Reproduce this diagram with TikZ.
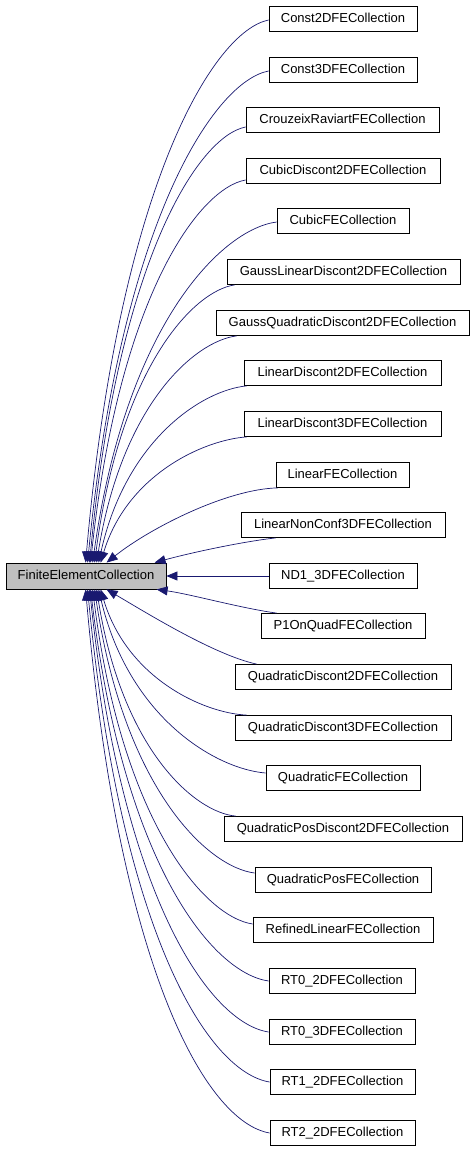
\documentclass[tikz,border=0pt]{standalone}
\usepackage{fontspec}
\setmainfont{Liberation Sans}
\usetikzlibrary{arrows.meta}
\definecolor{edgecol}{HTML}{191970}
\definecolor{parentfill}{HTML}{BFBFBF}
\tikzset{
  cls/.style={draw=black, line width=0.8pt, minimum height=25pt, inner sep=0pt,
    font=\fontsize{13}{15}\selectfont, text height=9.5pt, text depth=2.5pt},
  parentbox/.style={cls, fill=parentfill, minimum height=26pt},
  edge/.style={draw=edgecol, line width=0.7pt, -{Triangle[length=11pt,width=9pt]}}
}
\begin{document}
\begin{tikzpicture}[x=1pt,y=-1pt]
\useasboundingbox (0,0) rectangle (475,1152);
\node[parentbox, minimum width=160pt] (p) at (86,576) {FiniteElementCollection};
\node[cls, minimum width=148pt] (c0) at (343,19) {Const2DFECollection};
\node[cls, minimum width=148pt] (c1) at (343,70) {Const3DFECollection};
\node[cls, minimum width=193pt] (c2) at (342.5,120) {CrouzeixRaviartFECollection};
\node[cls, minimum width=194pt] (c3) at (343,171) {CubicDiscont2DFECollection};
\node[cls, minimum width=132pt] (c4) at (343,221) {CubicFECollection};
\node[cls, minimum width=233pt] (c5) at (343.5,272) {GaussLinearDiscont2DFECollection};
\node[cls, minimum width=253pt] (c6) at (342.5,323) {GaussQuadraticDiscont2DFECollection};
\node[cls, minimum width=197pt] (c7) at (342.5,373) {LinearDiscont2DFECollection};
\node[cls, minimum width=197pt] (c8) at (342.5,424) {LinearDiscont3DFECollection};
\node[cls, minimum width=133pt] (c9) at (342.5,475) {LinearFECollection};
\node[cls, minimum width=204pt] (c10) at (343,525) {LinearNonConf3DFECollection};
\node[cls, minimum width=148pt] (c11) at (343,576) {ND1\_3DFECollection};
\node[cls, minimum width=164pt] (c12) at (343,626) {P1OnQuadFECollection};
\node[cls, minimum width=216pt] (c13) at (343,677) {QuadraticDiscont2DFECollection};
\node[cls, minimum width=216pt] (c14) at (343,728) {QuadraticDiscont3DFECollection};
\node[cls, minimum width=154pt] (c15) at (343,778) {QuadraticFECollection};
\node[cls, minimum width=238pt] (c16) at (343,829) {QuadraticPosDiscont2DFECollection};
\node[cls, minimum width=176pt] (c17) at (343,880) {QuadraticPosFECollection};
\node[cls, minimum width=180pt] (c18) at (343,930) {RefinedLinearFECollection};
\node[cls, minimum width=146pt] (c19) at (342,981) {RT0\_2DFECollection};
\node[cls, minimum width=146pt] (c20) at (342,1032) {RT0\_3DFECollection};
\node[cls, minimum width=145pt] (c21) at (342.5,1082) {RT1\_2DFECollection};
\node[cls, minimum width=145pt] (c22) at (342.5,1133) {RT2\_2DFECollection};
% upper edges
\draw[edge] ([yshift=-1pt]c0.west) .. controls (214,31) and (119,183) .. ([xshift=80pt]p.north west);
\draw[edge] ([yshift=-1pt]c1.west) .. controls (215,81) and (121,219) .. ([xshift=82pt]p.north west);
\draw[edge] ([yshift=-7pt]c2.west) .. controls (199,136) and (118,258) .. ([xshift=84pt]p.north west);
\draw[edge] ([yshift=-9pt]c3.west) .. controls (199.5,188) and (119,295) .. ([xshift=85pt]p.north west);
\draw[edge] ([yshift=-1pt]c4.west) .. controls (222,229) and (126,324) .. ([xshift=87pt]p.north west);
\draw[edge] ([xshift=8pt]c5.south west) .. controls (193,291) and (120,368) .. ([xshift=89pt]p.north west);
\draw[edge] ([xshift=21pt]c6.south west) .. controls (195,341) and (122,404) .. ([xshift=91pt]p.north west);
\draw[edge] ([xshift=3pt]c7.south west) .. controls (203,390) and (126,439) .. ([xshift=93pt]p.north west);
\draw[edge] ([xshift=3pt]c8.south west) .. controls (203,440) and (127,475) .. ([xshift=95pt]p.north west);
\draw[edge] ([xshift=2pt]c9.south west) .. controls (227,489) and (150,528) .. ([xshift=101pt]p.north west);
\draw[edge] ([xshift=35pt]c10.south west) .. controls (240,542) and (190,553) .. ([xshift=149pt]p.north west);
% middle
\draw[edge] (c11.west) -- (p.east);
% lower edges
\draw[edge] ([xshift=16pt]c12.north west) .. controls (240,608) and (190,594) .. ([xshift=151pt]p.south west);
\draw[edge] ([xshift=22pt]c13.north west) .. controls (215,655) and (150,615) .. ([xshift=101pt]p.south west);
\draw[edge] ([xshift=12pt]c14.north west) .. controls (203,713) and (127,678) .. ([xshift=95pt]p.south west);
\draw[edge] ([yshift=5pt]c15.west) .. controls (216,769) and (129,718) .. ([xshift=93pt]p.south west);
\draw[edge] ([xshift=12pt]c16.north west) .. controls (194,812) and (122,749) .. ([xshift=91pt]p.south west);
\draw[edge] ([yshift=7pt]c17.west) .. controls (207,867) and (124,788) .. ([xshift=89pt]p.south west);
\draw[edge] ([yshift=6pt]c18.west) .. controls (205,917) and (122,823) .. ([xshift=87pt]p.south west);
\draw[edge] (c19.west) .. controls (212,973) and (123,863) .. ([xshift=85pt]p.south west);
\draw[edge] (c20.west) .. controls (210,1023) and (122,899) .. ([xshift=84pt]p.south west);
\draw[edge] (c21.west) .. controls (208,1072) and (121,934) .. ([xshift=82pt]p.south west);
\draw[edge] (c22.west) .. controls (206,1122) and (119,970) .. ([xshift=80pt]p.south west);
\end{tikzpicture}
\end{document}
